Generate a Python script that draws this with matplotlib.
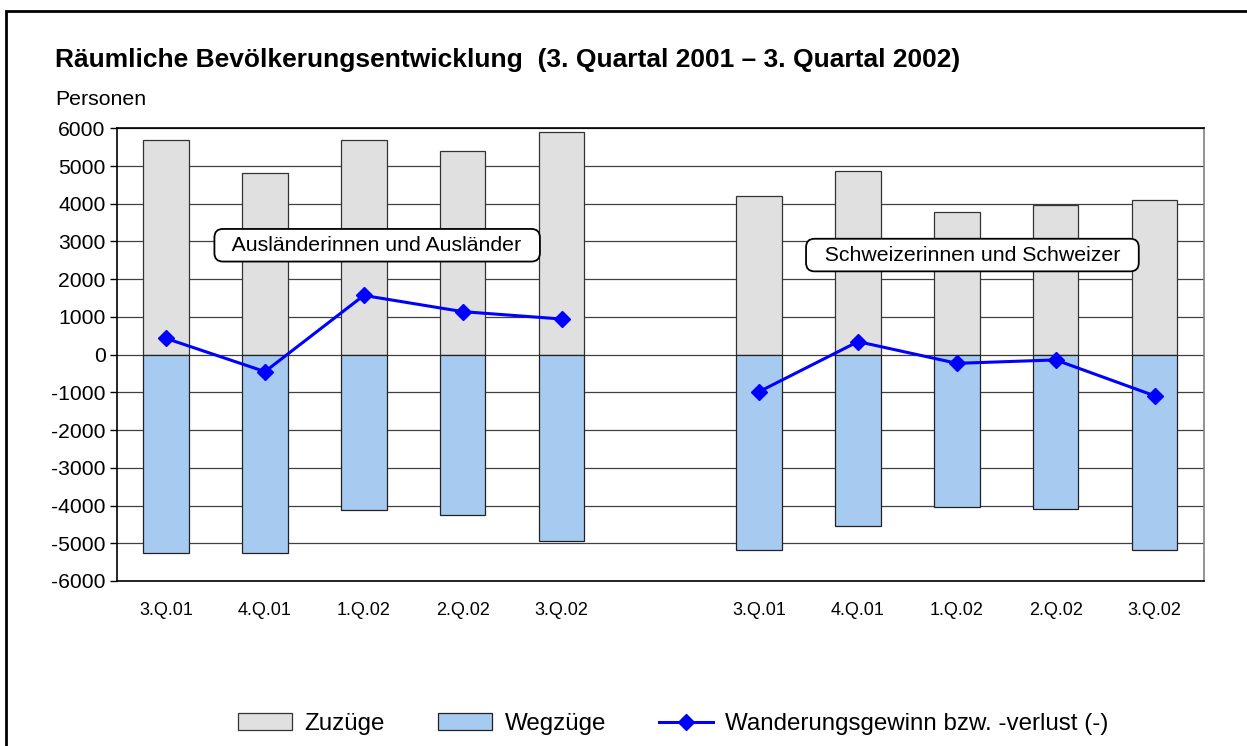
import matplotlib
matplotlib.use("Agg")
import matplotlib.pyplot as plt
import numpy as np
from matplotlib.patches import Rectangle
from matplotlib.lines import Line2D
from matplotlib.patches import Patch

plt.rcParams['font.family'] = ['Liberation Sans', 'DejaVu Sans']

categories = ["3.Q.01", "4.Q.01", "1.Q.02", "2.Q.02", "3.Q.02", "",
              "3.Q.01", "4.Q.01", "1.Q.02", "2.Q.02", "3.Q.02"]
zuzuege = [5680, 4820, 5690, 5400, 5890, np.nan, 4210, 4880, 3790, 3960, 4100]
wegzuege = [-5260, -5270, -4130, -4260, -4950, np.nan, -5180, -4540, -4030, -4100, -5180]
saldo = [430, -450, 1570, 1140, 945, np.nan, -980, 345, -230, -140, -1090]
yticks = list(range(-6000, 6001, 1000))

fig = plt.figure(figsize=(12.47, 7.46), dpi=100)
W, H = 1247, 746
ax = fig.add_axes([116.7 / W, 1 - 581 / H, (1204 - 116.7) / W, (581 - 128.3) / H])

x = np.arange(len(categories))
ax.set_axisbelow(True)
ax.yaxis.grid(True, color='#404040', linewidth=0.9)
ax.bar(x, zuzuege, width=0.46, color='#E0E0E0', edgecolor='#333333', linewidth=0.9, zorder=2)
ax.bar(x, wegzuege, width=0.46, color='#A6CAF0', edgecolor='#222222', linewidth=0.9, zorder=2)
ax.plot(x, saldo, color='#0000FF', linewidth=2.2, marker='D', markersize=8.2, zorder=4)

ax.set_xlim(-0.5, len(categories) - 0.5)
ax.set_ylim(-6000, 6000)
ax.set_yticks(yticks)
ax.set_yticklabels([str(v) for v in yticks], fontsize=15.2)
ax.set_xticks(x)
ax.set_xticklabels(categories, fontsize=13)
ax.tick_params(axis='x', length=0, pad=15)
ax.tick_params(axis='y', direction='out', length=5, width=1, pad=3)
for s in ['left', 'top', 'bottom']:
    ax.spines[s].set_color('black')
    ax.spines[s].set_linewidth(1.2)
ax.spines['right'].set_color('#808080')
ax.spines['right'].set_linewidth(1.2)

box = dict(boxstyle='round,pad=0.32,rounding_size=0.4', fc='white', ec='black', lw=1.3)
ax.text(2.135, 2900, "  Ausländerinnen und Ausländer  ", fontsize=15.3, ha='center', va='center',
        zorder=5, bbox=box)
ax.text(8.157, 2640, "  Schweizerinnen und Schweizer  ", fontsize=15.3, ha='center', va='center',
        zorder=5, bbox=dict(box))

fig.text(55 / W, 1 - 67 / H, "Räumliche Bevölkerungsentwicklung  (3. Quartal 2001 – 3. Quartal 2002)",
         fontsize=19, fontweight='bold', ha='left', va='baseline')
fig.text(55 / W, 1 - 105 / H, "Personen", fontsize=15.3, ha='left', va='baseline')

# outer frame
fig.patches.append(Rectangle((6 / W, -0.1), 1.2, 1 - 11 / H + 0.1, transform=fig.transFigure,
                             fill=False, ec='black', lw=2))

handles = [Patch(facecolor='#E0E0E0', edgecolor='#333333', linewidth=0.9),
           Patch(facecolor='#A6CAF0', edgecolor='#222222', linewidth=0.9),
           Line2D([], [], color='#0000FF', linewidth=2.2, marker='D', markersize=8.2)]
labels = ["Zuzüge", "Wegzüge", "Wanderungsgewinn bzw. -verlust (-)"]
fig.legend(handles, labels, loc='center left', bbox_to_anchor=(238 / W, 1 - 724 / H), ncol=3,
           frameon=False, fontsize=17.4, handlelength=2.25, handleheight=0.72,
           handletextpad=0.5, columnspacing=2.2, borderpad=0, borderaxespad=0)

fig.savefig("out.png", dpi=100)
